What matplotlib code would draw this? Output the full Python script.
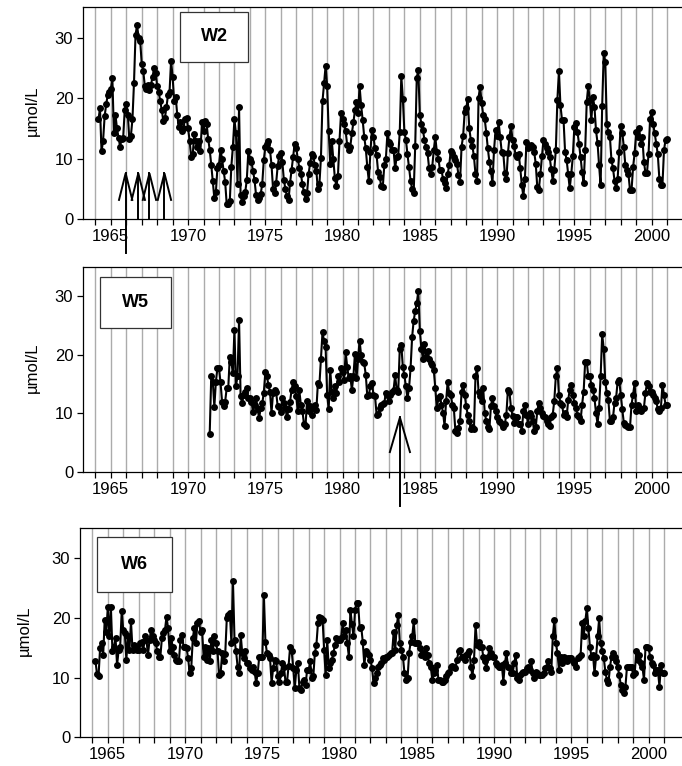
import numpy as np
import matplotlib
matplotlib.use('Agg')
import matplotlib.pyplot as plt
from matplotlib.patches import Rectangle

plt.rcParams['font.family'] = ['Liberation Sans', 'DejaVu Sans']

# sampling: 10 samples per year, series given year by year
SAMPLES_PER_YEAR = 10

w2_start = 1964.2
w2 = [
    16.5, 18.3, 11.2, 13.0, 17.0, 19.0, 20.5, 21.0,
    21.5, 23.3, 14.2, 17.2, 15.0, 13.5, 12.0, 13.3, 13.5, 18.0,
    19.0, 17.2, 13.2, 13.8, 16.5, 22.5, 30.5, 32.0, 30.0, 29.5,
    25.7, 24.5, 22.0, 21.5, 22.2, 21.3, 22.2, 23.5, 25.0, 24.2,
    22.0, 21.0, 19.5, 18.0, 16.2, 16.7, 18.5, 20.5, 21.0, 26.2,
    23.5, 19.5, 20.2, 17.2, 15.2, 16.0, 14.5, 15.0, 16.5, 16.8,
    15.0, 13.0, 10.3, 10.7, 14.0, 13.0, 12.0, 13.0, 11.3, 16.0,
    14.5, 16.3, 15.8, 13.3, 11.5, 9.0, 6.3, 3.5, 4.5, 8.5,
    9.0, 11.5, 10.0, 8.0, 6.2, 2.5, 2.6, 3.0, 8.7, 12.0,
    16.5, 14.2, 5.8, 18.5, 4.0, 2.8, 3.8, 4.5, 6.5, 11.2,
    10.0, 9.5, 8.0, 6.5, 4.0, 3.2, 3.5, 4.2, 5.8, 9.8,
    12.0, 12.5, 13.0, 11.5, 9.0, 5.0, 4.3, 6.0, 8.8, 10.5,
    11.0, 9.5, 6.5, 5.0, 3.8, 3.2, 6.0, 8.2, 10.3, 12.5,
    11.8, 10.0, 8.5, 7.5, 5.8, 4.5, 3.3, 4.3, 7.5, 9.3,
    10.7, 10.5, 9.0, 8.0, 5.0, 5.8, 10.2, 19.5, 22.5, 25.3,
    22.0, 14.5, 9.2, 13.0, 10.0, 6.8, 5.5, 7.2, 13.0, 17.5,
    16.5, 15.8, 14.5, 12.2, 11.5, 12.0, 14.2, 16.0, 18.0, 19.3,
    17.5, 22.0, 18.8, 16.4, 13.6, 11.7, 8.6, 6.3, 11.1, 14.8,
    13.6, 11.7, 10.6, 7.8, 7.0, 5.5, 5.3, 8.9, 9.9, 14.2,
    12.8, 12.4, 11.4, 11.4, 8.4, 10.3, 10.5, 14.4, 23.6, 19.9,
    14.4, 13.1, 10.7, 8.6, 6.4, 5.0, 4.4, 12.1, 23.4, 24.6,
    17.2, 15.8, 14.7, 13.1, 12.0, 10.9, 8.4, 7.5, 8.6, 11.4,
    13.6, 11.1, 10.0, 8.2, 8.1, 6.7, 6.0, 5.2, 7.5, 8.9,
    11.3, 11.0, 10.3, 9.8, 9.2, 7.3, 6.2, 12.0, 13.7, 17.7,
    18.3, 19.8, 15.0, 13.1, 12.1, 10.4, 7.5, 6.4, 20.1, 21.9,
    19.2, 17.2, 16.5, 14.3, 11.7, 9.5, 8.0, 6.0, 11.4, 14.7,
    13.7, 16.0, 13.6, 11.1, 10.9, 7.7, 6.6, 10.9, 13.6, 15.4,
    13.1, 12.1, 10.6, 10.3, 10.7, 8.4, 5.6, 3.8, 6.7, 12.8,
    11.7, 12.0, 12.2, 12.0, 11.1, 9.2, 5.3, 4.9, 7.5, 10.4,
    13.1, 12.4, 11.7, 11.1, 10.3, 8.3, 6.4, 8.2, 11.4, 19.7,
    24.4, 18.8, 16.4, 16.4, 11.1, 9.8, 7.5, 5.1, 7.5, 10.4,
    15.3, 15.9, 14.4, 12.5, 10.3, 7.8, 6.0, 11.5, 19.4, 22.0,
    19.7, 16.4, 20.2, 18.6, 14.7, 12.6, 8.9, 5.6, 18.7, 27.4,
    26.0, 15.8, 14.4, 13.6, 9.8, 8.4, 6.4, 5.1, 6.7, 11.1,
    15.4, 14.3, 12.0, 8.9, 8.1, 7.5, 4.8, 4.8, 8.6, 10.9,
    14.4, 13.6, 15.0, 12.5, 13.6, 9.5, 7.7, 7.7, 10.7, 16.6,
    17.7, 15.8, 14.2, 12.5, 10.7, 6.7, 5.6, 5.6, 11.4, 13.1,
    13.2,
]

w5_start = 1971.4
w5 = [
    6.5, 16.3, 15.4, 11.1, 15.4, 17.7,
    17.7, 15.3, 12.0, 11.2, 12.0, 14.3, 14.3, 19.6, 18.8, 16.8,
    24.2, 14.7, 16.3, 26.0, 12.9, 11.8, 13.2, 13.7, 14.3, 12.7,
    12.6, 12.0, 10.3, 11.5, 12.6, 10.7, 9.2, 10.9, 11.7, 13.5,
    17.0, 16.3, 14.9, 13.7, 10.1, 13.5, 13.9, 13.6, 11.2, 11.0,
    10.2, 12.6, 11.8, 10.9, 9.3, 10.7, 12.0, 14.0, 15.4, 14.6,
    12.9, 10.4, 13.9, 11.5, 10.4, 8.2, 7.9, 12.1, 10.4, 11.2,
    9.8, 10.9, 11.5, 10.5, 15.1, 14.9, 19.3, 23.8, 22.4, 21.3,
    13.2, 10.7, 17.4, 13.7, 12.6, 14.6, 13.5, 16.3, 15.4, 17.7,
    17.1, 15.7, 20.4, 17.9, 16.0, 16.3, 14.0, 16.3, 20.2, 16.0,
    19.3, 22.4, 19.9, 18.8, 18.5, 16.6, 12.9, 13.2, 14.6, 15.1,
    13.2, 12.9, 9.8, 9.9, 10.9, 11.5, 11.6, 11.8, 13.5, 13.2,
    12.1, 13.2, 13.7, 14.0, 16.5, 14.0, 13.7, 21.0, 21.6, 17.9,
    16.5, 14.6, 12.6, 14.3, 17.7, 23.0, 25.8, 27.4, 28.8, 30.8,
    24.1, 21.0, 19.3, 21.8, 19.6, 20.7, 19.3, 18.5, 18.2, 17.4,
    14.3, 10.9, 12.6, 12.9, 11.5, 10.1, 7.9, 12.1, 15.4, 13.5,
    13.2, 11.5, 10.9, 7.0, 6.7, 7.5, 8.7, 13.7, 14.9, 13.2,
    11.2, 9.8, 8.7, 7.3, 7.6, 7.3, 16.3, 17.7, 13.7, 13.0,
    12.1, 14.3, 10.1, 8.7, 7.6, 7.3, 11.2, 12.7, 11.2, 10.4,
    9.3, 8.7, 8.5, 8.2, 7.6, 8.2, 9.8, 14.0, 13.7, 10.9,
    9.6, 8.4, 9.3, 9.3, 8.2, 8.2, 7.0, 10.4, 11.5, 9.8,
    8.2, 10.1, 9.6, 8.7, 7.0, 7.6, 10.4, 11.8, 10.9, 10.1,
    9.6, 9.3, 8.7, 8.2, 7.9, 9.3, 9.8, 12.1, 16.3, 17.7,
    13.2, 11.8, 11.5, 9.8, 10.1, 9.3, 12.3, 14.0, 14.9, 13.2,
    11.8, 10.9, 9.8, 9.3, 8.7, 11.5, 13.7, 18.8, 18.8, 16.3,
    16.3, 14.9, 14.0, 12.6, 10.1, 8.2, 10.9, 16.3, 23.5, 21.0,
    15.4, 13.5, 12.3, 8.7, 8.7, 9.3, 11.8, 12.6, 15.4, 15.7,
    13.2, 10.7, 8.4, 8.0, 7.9, 7.6, 7.6, 11.5, 13.2, 15.1,
    10.4, 11.5, 10.9, 10.4, 10.7, 10.9, 13.5, 15.1, 14.6, 13.7,
    13.7, 13.2, 12.6, 12.1, 10.7, 10.4, 10.9, 14.9, 13.2, 11.5,
    11.5,
]

w6_start = 1964.2
w6 = [
    12.8, 10.6, 10.3, 14.9, 15.8, 13.8, 19.7, 17.7,
    21.8, 16.9, 21.8, 14.4, 15.2, 16.6, 12.1, 14.6, 15.2, 21.1,
    17.9, 17.4, 13.0, 16.9, 14.6, 19.4, 14.6, 15.5, 15.2, 14.6,
    14.6, 15.8, 16.0, 14.6, 16.9, 16.3, 13.8, 16.3, 18.0, 16.9,
    16.3, 15.8, 14.4, 13.5, 13.5, 16.6, 17.4, 18.0, 20.2, 18.3,
    14.4, 16.6, 15.2, 13.8, 13.0, 12.7, 12.7, 16.3, 17.2, 15.2,
    15.2, 14.9, 13.2, 10.7, 11.6, 16.6, 18.3, 15.8, 19.1, 19.4,
    17.7, 18.0, 13.5, 15.2, 13.0, 14.9, 12.7, 16.3, 14.4, 16.9,
    15.8, 14.4, 10.4, 10.7, 14.1, 12.7, 14.0, 19.9, 20.5, 20.8,
    15.8, 26.1, 16.3, 14.4, 11.8, 10.7, 17.2, 14.1, 13.2, 14.4,
    12.4, 12.4, 11.6, 11.3, 11.8, 11.0, 9.1, 10.7, 13.5, 13.5,
    13.5, 23.9, 16.0, 14.1, 13.8, 13.2, 9.1, 11.6, 13.0, 12.7,
    10.2, 9.3, 10.7, 12.4, 11.8, 9.3, 9.3, 12.0, 15.2, 14.4,
    11.6, 8.2, 11.3, 12.4, 8.2, 7.9, 9.3, 9.6, 8.8, 11.3,
    11.3, 12.7, 9.9, 10.2, 14.1, 15.5, 19.1, 20.2, 19.9, 19.7,
    14.6, 10.4, 16.3, 11.6, 12.4, 13.0, 14.1, 15.5, 16.6, 16.3,
    16.3, 16.6, 19.1, 16.9, 18.0, 15.8, 13.5, 21.3, 19.0, 16.9,
    21.3, 22.5, 22.5, 18.3, 18.5, 16.0, 12.1, 14.4, 14.1, 13.8,
    13.0, 11.6, 9.1, 9.9, 10.7, 11.8, 12.1, 12.4, 13.2, 13.0,
    13.5, 13.5, 13.8, 14.1, 14.1, 17.7, 14.6, 18.8, 20.5, 15.8,
    14.6, 13.5, 10.7, 9.6, 9.9, 14.1, 16.0, 16.9, 19.4, 15.8,
    15.8, 15.8, 14.9, 13.8, 14.1, 13.5, 14.9, 13.8, 12.4, 11.8,
    9.6, 10.7, 11.3, 12.1, 9.6, 9.6, 9.3, 9.3, 9.6, 10.2,
    10.7, 11.0, 11.8, 12.0, 11.8, 11.6, 13.0, 14.4, 14.6, 13.5,
    13.5, 13.0, 13.8, 14.1, 14.4, 11.8, 10.2, 13.0, 18.8, 15.5,
    16.0, 15.2, 15.2, 13.5, 12.7, 11.6, 13.5, 14.9, 14.1, 13.5,
    13.5, 12.4, 12.1, 11.8, 11.8, 12.1, 9.3, 12.4, 14.1, 11.8,
    11.6, 10.7, 10.7, 12.4, 13.8, 9.9, 9.6, 10.4, 10.7, 11.0,
    11.0, 11.6, 11.8, 11.3, 12.7, 10.7, 9.9, 11.0, 10.7, 10.4,
    10.4, 10.4, 10.7, 11.6, 11.8, 12.7, 11.6, 11.0, 16.9, 19.7,
    15.8, 14.1, 11.3, 13.5, 12.4, 13.5, 13.2, 12.7, 13.2, 13.2,
    13.2, 12.7, 12.4, 11.8, 13.2, 13.5, 13.8, 19.1, 16.9, 19.4,
    21.6, 18.3, 15.2, 13.5, 13.8, 10.7, 13.5, 16.9, 19.9, 15.8,
    14.4, 13.2, 11.0, 9.6, 9.1, 11.8, 13.5, 14.1, 13.5, 12.7,
    11.8, 10.4, 8.8, 7.9, 7.4, 8.5, 11.8, 11.8, 11.8, 11.8,
    10.4, 10.7, 14.4, 13.0, 13.8, 12.4, 11.8, 9.6, 15.2, 15.2,
    14.9, 13.5, 12.4, 12.1, 10.7, 11.3, 11.3, 8.5, 12.1, 10.7,
    10.7,
]

# event markers (years) drawn as arrows
w2_events = [1965.96, 1966.78, 1967.5, 1968.47]
w5_events = [1983.71]

year_ticks = list(range(1964, 2002))
label_ticks = list(range(1965, 2001, 5))
y_ticks = [0, 10, 20, 30]

fig = plt.figure(figsize=(6.82, 7.66), dpi=100)
axes_rects = [
    [0.1217, 0.7137, 0.8836, 0.2768],
    [0.1217, 0.3838, 0.8836, 0.2680],
    [0.1173, 0.0375, 0.8836, 0.2728],
]
panels = [
    ('W2', w2_start, w2, (0.161, 0.742, 0.113, 0.236), -0.071),
    ('W5', w5_start, w5, (0.028, 0.700, 0.118, 0.250), -0.071),
    ('W6', w6_start, w6, (0.028, 0.695, 0.125, 0.263), -0.080),
]

axes = []
for rect, (name, start, vals, box, ylab_x) in zip(axes_rects, panels):
    ax = fig.add_axes(rect)
    t = start + np.arange(len(vals)) / SAMPLES_PER_YEAR
    ax.plot(t, vals, color='black', linewidth=1.5, marker='o',
            markersize=5.0, markeredgewidth=0, zorder=3)

    ax.set_xlim(1963.2, 2002.2)
    ax.set_ylim(0, 35)
    ax.set_xticks(label_ticks)
    ax.set_xticks(year_ticks, minor=True)
    ax.set_yticks(y_ticks)
    ax.grid(True, axis='x', which='both', color='#ababab', linewidth=1.0, zorder=0)
    ax.tick_params(axis='both', which='both', direction='out', length=4,
                   width=0.9, labelsize=12, pad=3)
    ax.spines['right'].set_visible(False)
    for s in ('left', 'top', 'bottom'):
        ax.spines[s].set_linewidth(0.9)

    ax.set_ylabel('µmol/L', fontsize=12)
    ax.yaxis.set_label_coords(ylab_x, 0.51)

    bx, by, bw, bh = box
    ax.add_patch(Rectangle((bx, by), bw, bh, transform=ax.transAxes,
                           facecolor='white', edgecolor='#333333',
                           linewidth=0.9, zorder=5))
    ax.text(bx + bw / 2, by + bh / 2, name, transform=ax.transAxes,
            ha='center', va='center', fontsize=13, fontweight='bold', zorder=6)
    axes.append(ax)


def draw_arrow(ax, x, tip, base, wing, half):
    kw = dict(color='black', linewidth=1.4, clip_on=False, zorder=4,
              solid_joinstyle='miter')
    ax.plot([x, x], [base, tip], **kw)
    ax.plot([x - half, x, x + half], [wing, tip, wing], **kw)


for i, yr in enumerate(w2_events):
    draw_arrow(axes[0], yr, 7.6, -5.6 if i == 0 else 0, 3.2, 0.43)
for yr in w5_events:
    draw_arrow(axes[1], yr, 9.3, -5.8, 3.4, 0.65)

plt.savefig('out.png', dpi=100)
